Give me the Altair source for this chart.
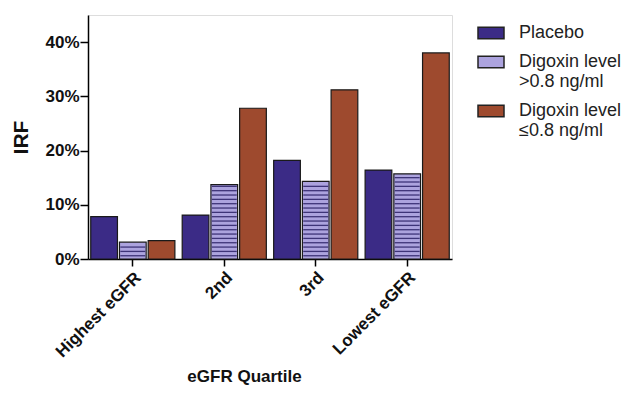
import altair as alt
import pandas as pd

quartiles = ["Highest eGFR", "2nd", "3rd", "Lowest eGFR"]
series = ["Placebo", "Digoxin level|>0.8 ng/ml", "Digoxin level|≤0.8 ng/ml"]
placebo = [0.078, 0.081, 0.182, 0.164]
dig_high = [0.031, 0.137, 0.143, 0.157]
dig_low = [0.034, 0.278, 0.312, 0.380]
colors = ["#3b2b86", "#aca3de", "#9e4a2e"]

rows = []
for i, q in enumerate(quartiles):
    for s, vals in zip(series, [placebo, dig_high, dig_low]):
        rows.append({"quartile": q, "series": s, "value": vals[i]})
df = pd.DataFrame(rows)

FONT = "Liberation Sans"

x = alt.X("quartile:N", sort=quartiles,
          scale=alt.Scale(paddingInner=0.08, paddingOuter=0.03),
          axis=alt.Axis(title="eGFR Quartile", labelAngle=-45, labelAlign="right",
                        labelBaseline="top", labelFontWeight="bold", labelFontSize=17,
                        labelPadding=3, titleFontSize=17, titleFontWeight="bold",
                        titleX=156, titleY=117, titleBaseline="middle",
                        domainColor="black", tickColor="black", tickSize=7,
                        domainWidth=1.5, tickWidth=1.5,
                        labelColor="#111", titleColor="#111"))
xo = alt.XOffset("series:N", sort=series, scale=alt.Scale(paddingInner=0.07))
y = alt.Y("value:Q", scale=alt.Scale(domain=[0, 0.45], nice=False),
          axis=alt.Axis(title="IRF", format=".0%", values=[0, 0.1, 0.2, 0.3, 0.4],
                        labelFontWeight="bold", labelFontSize=17, labelPadding=1,
                        titleFontSize=21, titleFontWeight="bold", titlePadding=13,
                        domainColor="black", tickColor="black", tickSize=8,
                        domainWidth=1.5, tickWidth=1.5, grid=False,
                        labelColor="#111", titleColor="#111"))

color = alt.Color("series:N", sort=series,
                  scale=alt.Scale(domain=series, range=colors),
                  legend=alt.Legend(title=None, orient="right", offset=21, padding=4,
                                    labelExpr="split(datum.label, '|')",
                                    labelFontSize=18, labelColor="#222",
                                    symbolType="M-1,-0.45H1V0.45H-1Z", symbolSize=676,
                                    symbolStrokeColor="#222", symbolStrokeWidth=1.5,
                                    symbolOpacity=1, rowPadding=6, labelOffset=14,
                                    labelLimit=200))

bars = alt.Chart(df).mark_bar(stroke="#1a1a1a", strokeWidth=1.2, opacity=1).encode(
    x=x, xOffset=xo, y=y, color=color)

stripes = alt.Chart(df).transform_filter(
    "datum.series === 'Digoxin level|>0.8 ng/ml'"
).transform_calculate(
    s="sequence(0.006, datum.value - 0.002, 0.008)"
).transform_flatten(["s"]).mark_tick(
    orient="horizontal", color="#3e3478", thickness=1.3, size=25, opacity=1
).encode(
    x=alt.X("quartile:N", sort=quartiles),
    xOffset=alt.XOffset("series:N", sort=series),
    y=alt.Y("s:Q"))

chart = alt.layer(bars, stripes).properties(
    width=364, height=244,
    autosize=alt.AutoSizeParams(type="none"),
    padding={"left": 80, "top": 7, "right": 172, "bottom": 129},
).configure_view(stroke=None).configure(font=FONT)

chart.save("out.html", embed_options={"renderer": "svg", "actions": False})
